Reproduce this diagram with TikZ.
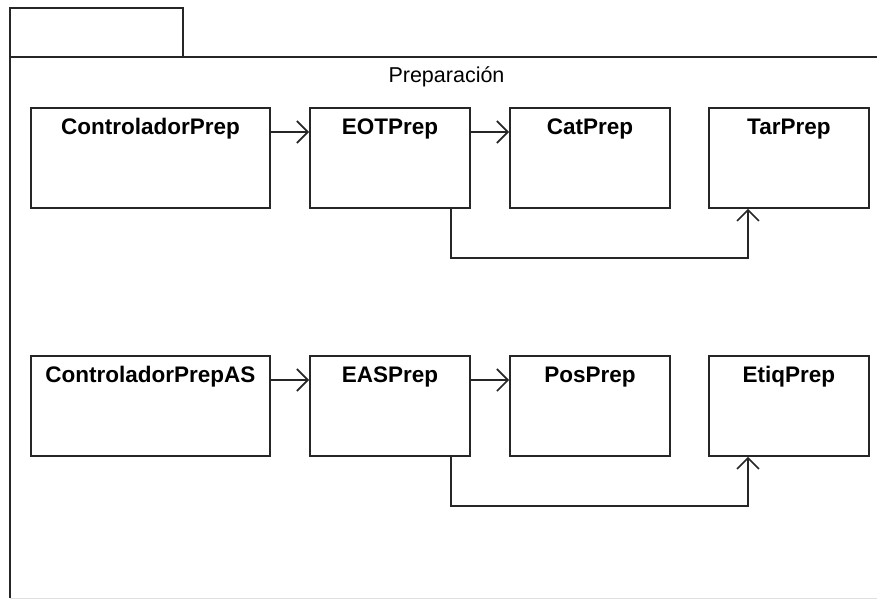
\documentclass[tikz,border=0pt]{standalone}
\usepackage{fontspec}
\setmainfont{Liberation Sans}
\usetikzlibrary{arrows.meta}
\begin{document}
\begin{tikzpicture}[x=1pt,y=-1pt,
  pkg/.style={line width=1.8pt, draw=black!85},
  cls/.style={draw=black!85, line width=1.8pt, rectangle, inner sep=0pt,
    minimum height=100pt, anchor=north west},
  narrowcls/.style={cls, minimum width=160pt},
  widecls/.style={cls, minimum width=239pt},
  clsname/.style={anchor=base, yshift=-27pt, inner sep=0pt,
    font=\fontsize{22.5}{27}\selectfont\bfseries},
  dep/.style={line width=1.8pt, draw=black!85,
    -{Straight Barb[length=11pt,width=22pt,line width=1.6pt]}}
]
\useasboundingbox (0,0) rectangle (877,599);
\fill[white] (0,0) rectangle (877,599);

% package frame with its tab
\draw[pkg] (10,57) -- (10,8) -- (183,8) -- (183,57);
\draw[pkg] (877,57) -- (10,57) -- (10,598);
\draw[black!12, line width=1pt] (10,598) -- (877,598);
\node[anchor=base, inner sep=0pt, font=\fontsize{21.5}{26}\selectfont]
  (pkgname) at (446.5,83) {Preparación};

% first row of classes
\node[widecls, label={[clsname]north:ControladorPrep}] (ctrl) at (30,107) {};
\node[narrowcls, label={[clsname]north:EOTPrep}] (eot) at (309,107) {};
\node[narrowcls, label={[clsname]north:CatPrep}] (cat) at (509,107) {};
\node[narrowcls, label={[clsname]north:TarPrep}] (tar) at (708,107) {};

% second row of classes
\node[widecls, label={[clsname]north:ControladorPrepAS}] (ctrlas) at (30,355) {};
\node[narrowcls, label={[clsname]north:EASPrep}] (eas) at (309,355) {};
\node[narrowcls, label={[clsname]north:PosPrep}] (pos) at (509,355) {};
\node[narrowcls, label={[clsname]north:EtiqPrep}] (etiq) at (708,355) {};

% dependencies, first row
\draw[dep] ([yshift=-25pt]ctrl.north east) -- ([yshift=-25pt]eot.north west);
\draw[dep] ([yshift=-25pt]eot.north east) -- ([yshift=-25pt]cat.north west);
\draw[dep] ([xshift=-20pt]eot.south east) -- ++(0,49) -| ([xshift=40pt]tar.south west);

% dependencies, second row
\draw[dep] ([yshift=-25pt]ctrlas.north east) -- ([yshift=-25pt]eas.north west);
\draw[dep] ([yshift=-25pt]eas.north east) -- ([yshift=-25pt]pos.north west);
\draw[dep] ([xshift=-20pt]eas.south east) -- ++(0,49) -| ([xshift=40pt]etiq.south west);
\end{tikzpicture}
\end{document}
